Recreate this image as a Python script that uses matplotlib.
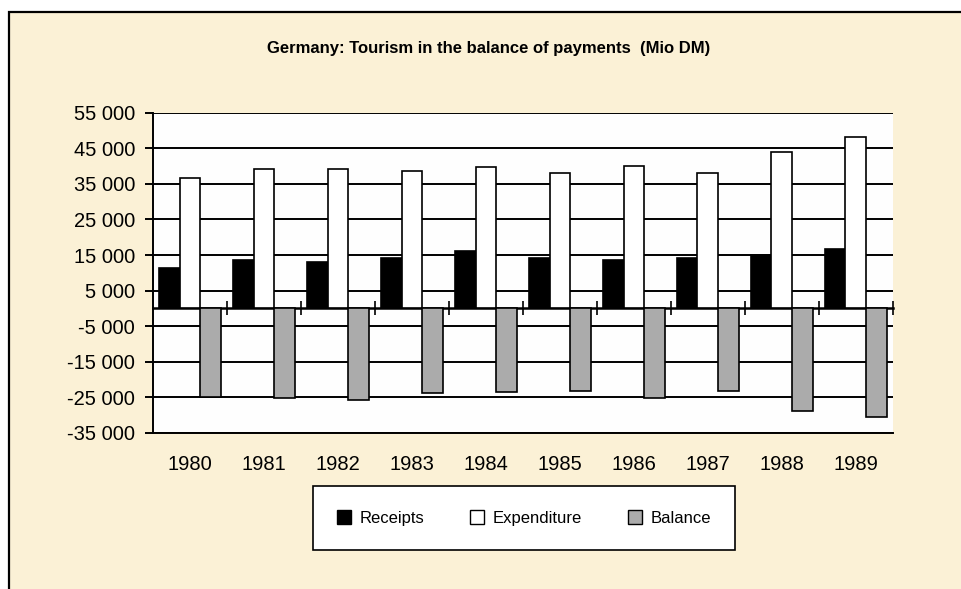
import matplotlib
matplotlib.use('Agg')
import matplotlib.pyplot as plt
from matplotlib.patches import Rectangle, Patch
import numpy as np

plt.rcParams['font.family'] = ['Liberation Sans', 'DejaVu Sans']

# Mio DM
years = ['1980', '1981', '1982', '1983', '1984', '1985', '1986', '1987', '1988', '1989']
receipts = [11300, 13600, 13000, 14100, 16100, 14100, 13600, 14100, 15000, 16700]
expenditure = [36600, 39200, 39200, 38600, 39700, 38000, 39900, 38000, 43900, 48100]
balance = [-24900, -25200, -25800, -23900, -23500, -23300, -25200, -23300, -28900, -30500]
y_ticks = list(range(-35000, 55001, 10000))

cream = '#fbf1d6'

fig = plt.figure(figsize=(9.62, 5.89), dpi=100)
fig.patch.set_facecolor('white')

# scanned page frame
fig.patches.append(Rectangle((9 / 962, -0.01), 1.0, 1 - 12 / 589 + 0.01,
                             transform=fig.transFigure, facecolor=cream,
                             edgecolor='black', linewidth=1.6, zorder=-5))

ax = fig.add_axes([153 / 962, 1 - 433 / 589, (892.7 - 153) / 962, (433 - 112.7) / 589])
ax.set_zorder(2)
ax.set_facecolor('#fefefe')

x = np.arange(len(years))
w = 0.278
ax.bar(x - w, receipts, w, color='black', edgecolor='black', linewidth=1.2, zorder=3)
ax.bar(x, expenditure, w, color='white', edgecolor='black', linewidth=1.2, zorder=3)
ax.bar(x + w, balance, w, color='#ababab', edgecolor='black', linewidth=1.2, zorder=3)

ax.set_xlim(-0.5, len(years) - 0.5)
ax.set_ylim(y_ticks[0], y_ticks[-1])
ax.set_yticks(y_ticks)
ax.set_yticklabels([f'{v:,}'.replace(',', ' ') for v in y_ticks], fontsize=14.5)
ax.tick_params(axis='y', length=6, width=1.4, pad=7)
ax.yaxis.grid(True, color='black', linewidth=1.4, zorder=1)
ax.set_axisbelow(True)

ax.set_xticks(x)
ax.set_xticklabels(years, fontsize=14.5)
ax.tick_params(axis='x', length=0, pad=16)

for s in ['top', 'right']:
    ax.spines[s].set_visible(False)
ax.spines['left'].set_linewidth(1.4)
ax.spines['bottom'].set_linewidth(1.4)

# zero line with category separators
zero_pos = (0 - y_ticks[0]) / (y_ticks[-1] - y_ticks[0])
sec = ax.secondary_xaxis(zero_pos)
sec.set_xticks(x + 0.5)
sec.set_xticklabels([])
sec.tick_params(direction='inout', length=10, width=1.2)
sec.spines['bottom'].set_linewidth(1.8)

fig.text(489 / 962, 1 - 48 / 589, 'Germany: Tourism in the balance of payments  (Mio DM)',
         ha='center', va='center', fontsize=12, fontweight='bold')

handles = [Patch(facecolor='black', edgecolor='black', label='Receipts'),
           Patch(facecolor='white', edgecolor='black', label='Expenditure'),
           Patch(facecolor='#ababab', edgecolor='black', label='Balance')]
leg = fig.legend(handles=handles, ncol=3, loc='center', mode='expand',
                 bbox_to_anchor=(313 / 962, 1 - 550 / 589, 422 / 962, 64 / 589),
                 fontsize=12, fancybox=False, framealpha=1, edgecolor='black',
                 handlelength=0.85, handleheight=0.85, handletextpad=0.5,
                 borderpad=1.45, borderaxespad=0)
leg.get_frame().set_linewidth(1.2)

fig.savefig('out.png', dpi=100, facecolor=fig.get_facecolor())
